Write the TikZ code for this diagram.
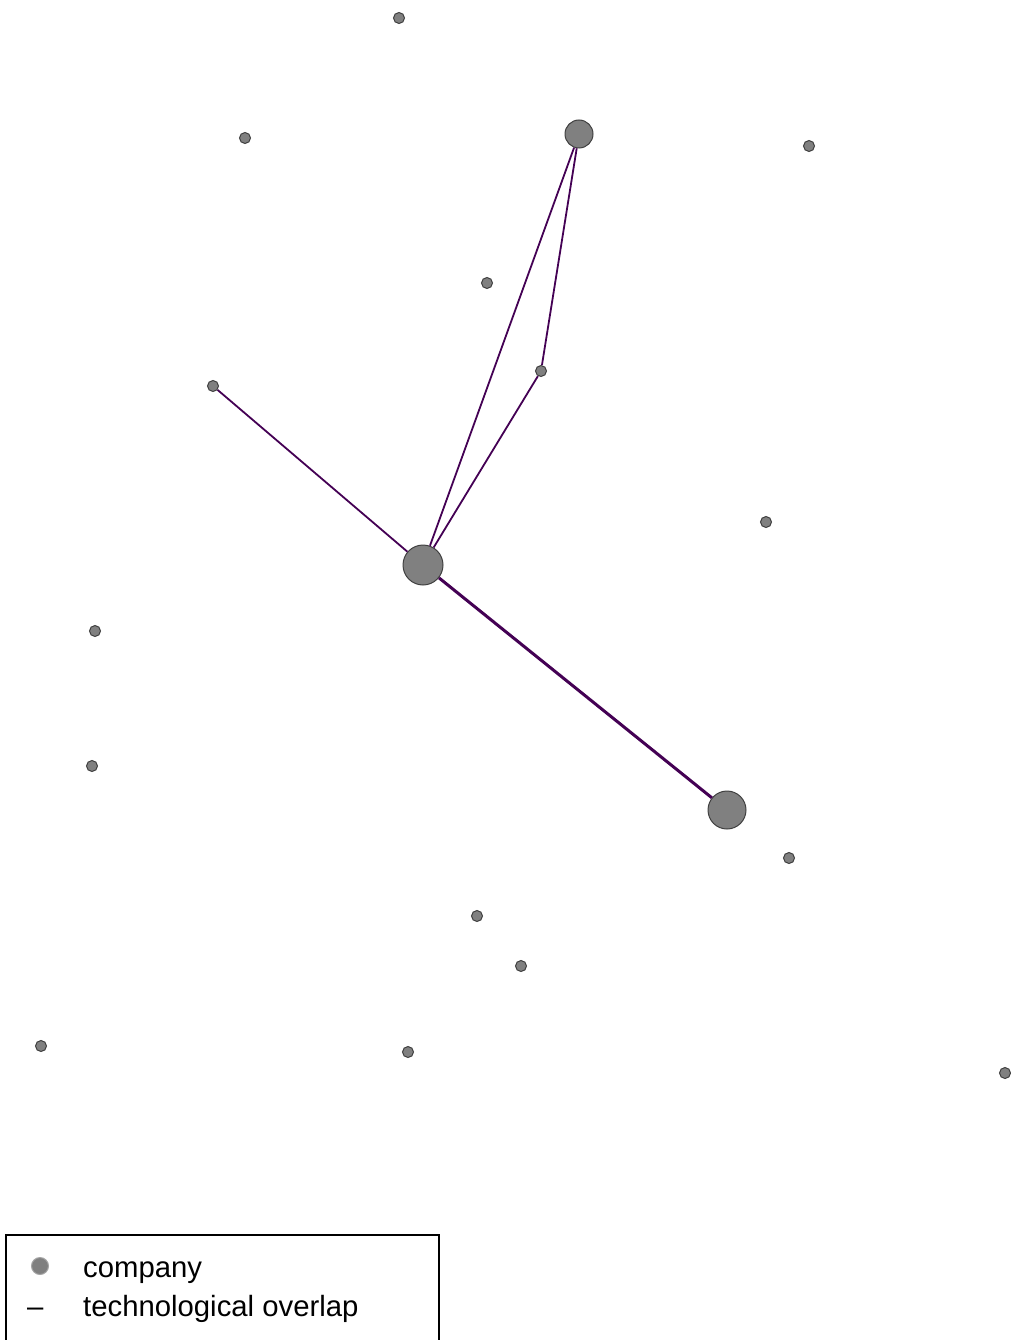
\documentclass[tikz,border=0pt]{standalone}
\usepackage{fontspec}
\setmainfont{Liberation Sans}
\begin{document}
\begin{tikzpicture}[x=1pt,y=-1pt,
  company/.style={circle,fill=gray!100!black,fill=black!50,draw=black!75,line width=1pt,inner sep=0pt,minimum size=#1},
  company/.default=11pt,
  overlap/.style={draw=edgecol,line width=1.8pt},
  thickoverlap/.style={draw=edgecol,line width=3pt},
  legtext/.style={anchor=base west,inner sep=0pt,font=\fontsize{29.3}{35}\selectfont}
]
\definecolor{edgecol}{HTML}{440154}
\useasboundingbox (0,0) rectangle (1011,1340);
% nodes
\node[company=40pt] (hub) at (423,565) {};
\node[company=28pt] (top) at (579,134) {};
\node[company=38pt] (se) at (727,810) {};
\node[company] (n1) at (399,18) {};
\node[company] (n2) at (245,138) {};
\node[company] (n3) at (809,146) {};
\node[company] (n4) at (487,283) {};
\node[company] (mid) at (541,371) {};
\node[company] (w) at (213,386) {};
\node[company] (n7) at (766,522) {};
\node[company] (n8) at (95,631) {};
\node[company] (n9) at (92,766) {};
\node[company] (n10) at (789,858) {};
\node[company] (n11) at (477,916) {};
\node[company] (n12) at (521,966) {};
\node[company] (n13) at (41,1046) {};
\node[company] (n14) at (408,1052) {};
\node[company] (n15) at (1005,1073) {};
% edges
\draw[overlap] (w) -- (hub);
\draw[overlap] (hub) -- (top);
\draw[overlap] (hub) -- (mid);
\draw[overlap] (mid) -- (top);
\draw[thickoverlap] (hub) -- (se);
% legend
\node[draw=black,line width=1.5pt,inner sep=0pt,minimum width=433pt,minimum height=130pt,anchor=north west] (legend) at (5,1234) {};
\node[circle,fill=black!50,draw=black!35,line width=1pt,inner sep=0pt,minimum size=17pt] (legdot) at (40,1266) {};
\node[legtext] (legc) at (83,1277) {company};
\node[legtext] (legdash) at (27,1316) {–};
\node[legtext] (legt) at (83,1316) {technological overlap};
\end{tikzpicture}
\end{document}
